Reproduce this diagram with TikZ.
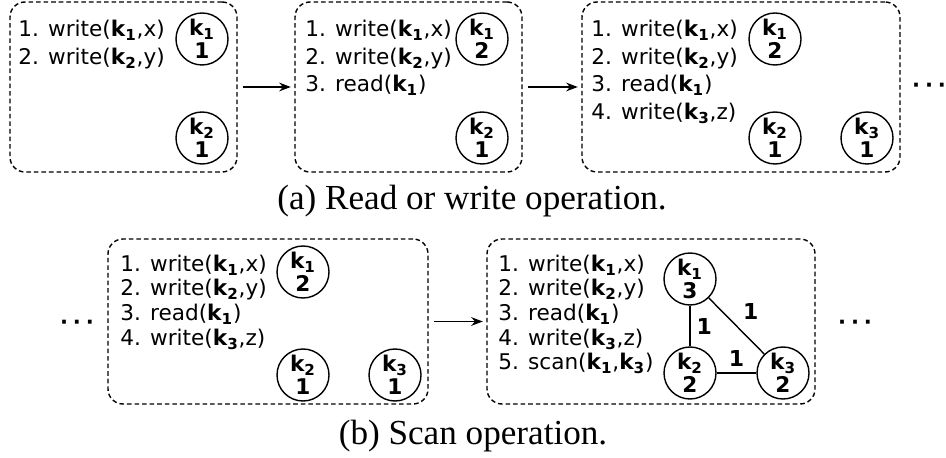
\documentclass[tikz,border=0pt]{standalone}
\usepackage{fontspec}
\setmainfont{Liberation Serif}
\newfontfamily\opsfont{DejaVu Sans}
\usetikzlibrary{positioning, arrows.meta}

\newcommand{\kname}[1]{\textbf{k\textsubscript{#1}}}
\newcommand{\moredots}{\textbf{·\hspace{2.8pt}·\hspace{2.8pt}·}}

\begin{document}
\begin{tikzpicture}[
        font=\opsfont\fontsize{12.3}{15.7}\selectfont,
        snapshot/.style={draw, line width=0.8pt, dash pattern=on 2.6pt off 1.7pt, rounded corners=0.3cm, inner sep=0},
        keynode/.style={circle, draw, line width=0.8pt, minimum size=1.04cm, inner sep=0, align=center, font=\opsfont\bfseries\fontsize{12.3}{13}\selectfont},
        ops/.style={anchor=north west, align=left, inner sep=0},
        weight/.style={font=\opsfont\bfseries\fontsize{12.5}{12}\selectfont},
        etc/.style={font=\opsfont\fontsize{12}{12}\selectfont, inner sep=0},
        subcap/.style={font=\rmfamily\fontsize{20}{24}\selectfont},
        arrow/.style={-Stealth, line width=0.8pt, shorten >=2pt, shorten <=3pt}
    ]
        \useasboundingbox (0,0) rectangle (18.92,-9.16);

        % (a) read / write
        \node [snapshot, minimum width=4.54cm, minimum height=3.4cm] (sa) at (2.47,-1.74) {};
        \node [snapshot, minimum width=4.54cm, minimum height=3.4cm] (sb) at (8.17,-1.74) {};
        \node [snapshot, minimum width=6.36cm, minimum height=3.4cm] (sc) at (14.82,-1.74) {};

        \node [ops] (oa) at (0.36,-0.40) {1. write(\kname{1},x)\\2. write(\kname{2},y)};
        \node [ops] (ob) at (6.10,-0.40) {1. write(\kname{1},x)\\2. write(\kname{2},y)\\3. read(\kname{1})};
        \node [ops] (oc) at (11.82,-0.40) {1. write(\kname{1},x)\\2. write(\kname{2},y)\\3. read(\kname{1})\\4. write(\kname{3},z)};

        \node [keynode] (a1) at (4.04,-0.78) {\kname{1}\\1};
        \node [keynode] (a2) at (4.04,-2.76) {\kname{2}\\1};
        \node [keynode] (b1) at (9.64,-0.78) {\kname{1}\\2};
        \node [keynode] (b2) at (9.64,-2.76) {\kname{2}\\1};
        \node [keynode] (c1) at (15.50,-0.78) {\kname{1}\\2};
        \node [keynode] (c2) at (15.50,-2.76) {\kname{2}\\1};
        \node [keynode] (c3) at (17.34,-2.76) {\kname{3}\\1};

        \node [etc] (ea) at (18.58,-1.76) {\moredots};

        \draw [arrow] (sa) -- (sb);
        \draw [arrow] (sb) -- (sc);

        \node [subcap] (capa) at (9.44,-4.02) {(a) Read or write operation.};

        % (b) scan
        \node [snapshot, minimum width=6.40cm, minimum height=3.3cm] (sd) at (5.36,-6.43) {};
        \node [snapshot, minimum width=6.56cm, minimum height=3.3cm] (se) at (13.02,-6.43) {};

        \node [ops, font=\opsfont\fontsize{12.3}{14}\selectfont] (od) at (2.40,-5.09) {1. write(\kname{1},x)\\2. write(\kname{2},y)\\3. read(\kname{1})\\4. write(\kname{3},z)};
        \node [ops, font=\opsfont\fontsize{12.3}{14}\selectfont] (oe) at (9.96,-5.09) {1. write(\kname{1},x)\\2. write(\kname{2},y)\\3. read(\kname{1})\\4. write(\kname{3},z)\\5. scan(\kname{1},\kname{3})};

        \node [keynode] (d1) at (6.06,-5.44) {\kname{1}\\2};
        \node [keynode] (d2) at (6.06,-7.50) {\kname{2}\\1};
        \node [keynode] (d3) at (7.90,-7.50) {\kname{3}\\1};
        \node [keynode] (e1) at (13.80,-5.58) {\kname{1}\\3};
        \node [keynode] (e2) at (13.80,-7.46) {\kname{2}\\2};
        \node [keynode] (e3) at (15.66,-7.46) {\kname{3}\\2};

        \draw [line width=0.8pt] (e1) -- node [weight, right] {1} (e2);
        \draw [line width=0.8pt] (e2) -- node [weight, above] {1} (e3);
        \draw [line width=0.8pt] (e1) -- node [weight, above right] {1} (e3);

        \node [etc] (eb) at (1.54,-6.50) {\moredots};
        \node [etc] (ec) at (17.10,-6.50) {\moredots};

        \draw [arrow] (sd) -- (se);

        \node [subcap] (capb) at (9.46,-8.72) {(b) Scan operation.};

    \end{tikzpicture}
\end{document}
